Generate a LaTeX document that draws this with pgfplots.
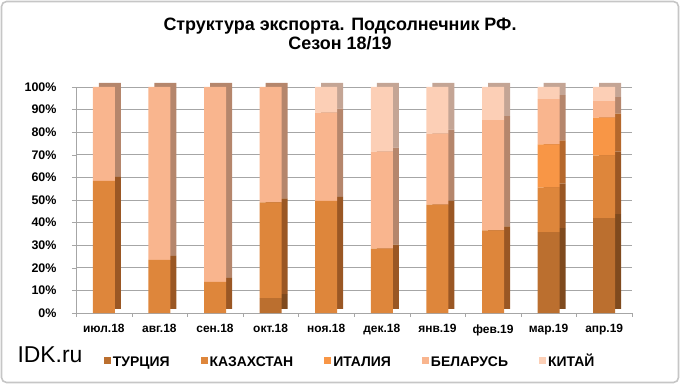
\documentclass[border=0pt]{standalone}
\usepackage{pgfplots}
\pgfplotsset{compat=1.18}
\usepackage{fontspec}
\setmainfont{Liberation Sans}
\definecolor{turk}{HTML}{BB6F2F}\definecolor{turkS}{HTML}{7F4A1E}
\definecolor{kaz}{HTML}{DE863B}\definecolor{kazS}{HTML}{9A5724}
\definecolor{ital}{HTML}{F89646}\definecolor{italS}{HTML}{B5682C}
\definecolor{bel}{HTML}{F9B58E}\definecolor{belS}{HTML}{B5866C}
\definecolor{chi}{HTML}{FCCFB6}\definecolor{chiS}{HTML}{C4A595}
\definecolor{gridc}{HTML}{A6A6A6}
\newcommand\ls{\rule[-3bp]{0pt}{15bp}}
\pgfplotstableread{
x turk kaz ital bel chi
0 0    58.5 0    41.5 0
1 0    23.5 0    76.5 0
2 0    13.8 0    86.2 0
3 6.6  42.4 0    51.0 0
4 0    49.6 0    39.1 11.3
5 0    28.5 0    42.9 28.6
6 0    47.9 0    31.5 20.6
7 0    36.6 0    48.7 14.7
8 35.8 19.7 19.1 20.0 5.4
9 42.0 27.6 16.9 7.3  6.2
}\datatable
\pgfplotsset{
  common/.style={width=556bp,height=226bp,scale only axis,
    xmin=-0.5,xmax=9.5,ymin=0,ymax=100,clip=false},
  bars/.style={ybar stacked,bar width=22bp},
}
\begin{document}
\begin{tikzpicture}
\useasboundingbox (0bp,0bp) rectangle (680bp,384bp);
\draw[gray!45,line width=1.6bp,rounded corners=5bp] (1.5bp,1.5bp) rectangle (678.5bp,382.5bp);
\node[font=\bfseries\fontsize{18}{19}\selectfont,align=center] at (340bp,350bp)
  {Структура экспорта. Подсолнечник РФ.\\Сезон 18/19};
\node[font=\fontsize{23}{26}\selectfont,anchor=base west] at (14bp,22bp) {IDK.ru};
% grid axis
\begin{axis}[common,at={(76bp,71bp)},anchor=south west,
  axis x line*=bottom,axis y line*=left,
  axis line style={gridc},
  tick align=outside,major tick length=4bp,
  tick style={gridc},
  ytick={0,10,...,100},
  yticklabels={0\%,10\%,20\%,30\%,40\%,50\%,60\%,70\%,80\%,90\%,100\%},
  yticklabel style={font=\bfseries\fontsize{12.5}{14}\selectfont,xshift=-12bp},
  ymajorgrids,grid style={gridc,line width=0.8bp},
  xtick={-0.5,0.5,...,9.5},xticklabels={},
  extra x ticks={0,1,...,9},
  extra x tick labels={июл.18,авг.18,сен.18,окт.18,ноя.18,дек.18,янв.19,фев.19,мар.19,апр.19},
  extra x tick style={major tick length=0pt,grid=none,
    tick label style={font=\bfseries\fontsize{12}{14}\selectfont,yshift=-8bp}},
]
\addplot[draw=none] coordinates {(0,0)};
\end{axis}
% side (depth) axis
\begin{axis}[common,at={(82bp,75bp)},anchor=south west,hide axis,bars]
\addplot[fill=turkS,draw=none] table[x=x,y=turk]{\datatable};
\addplot[fill=kazS,draw=none] table[x=x,y=kaz]{\datatable};
\addplot[fill=italS,draw=none] table[x=x,y=ital]{\datatable};
\addplot[fill=belS,draw=none] table[x=x,y=bel]{\datatable};
\addplot[fill=chiS,draw=none] table[x=x,y=chi]{\datatable};
\end{axis}
% front axis
\begin{axis}[common,at={(76bp,71bp)},anchor=south west,hide axis,bars,
  legend columns=5,
  legend style={at={(0.493,-0.212)},anchor=center,draw=none,fill=none,
    font=\bfseries\fontsize{14}{16}\selectfont,
    /tikz/every even column/.append style={column sep=29bp}},
  legend image code/.code={\fill[#1] (0bp,-3.5bp) rectangle (7bp,3.5bp);},
]
\addplot[fill=turk,draw=none] table[x=x,y=turk]{\datatable};
\addplot[fill=kaz,draw=none] table[x=x,y=kaz]{\datatable};
\addplot[fill=ital,draw=none] table[x=x,y=ital]{\datatable};
\addplot[fill=bel,draw=none] table[x=x,y=bel]{\datatable};
\addplot[fill=chi,draw=none] table[x=x,y=chi]{\datatable};
\legend{\ls ТУРЦИЯ,\ls КАЗАХСТАН,\ls ИТАЛИЯ,\ls БЕЛАРУСЬ,\ls КИТАЙ}
\end{axis}
\end{tikzpicture}
\end{document}
